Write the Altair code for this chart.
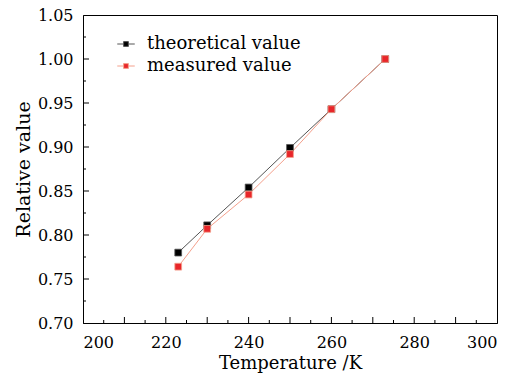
import altair as alt
import pandas as pd

temps = [223, 230, 240, 250, 260, 273]
theoretical = [0.780, 0.811, 0.854, 0.899, 0.943, 1.000]
measured = [0.764, 0.807, 0.846, 0.892, 0.943, 1.000]
series_names = ["theoretical value", "measured value"]

x_major = [210, 220, 230, 240, 250, 260, 270, 280, 290]
x_minor = [205, 215, 225, 235, 245, 255, 265, 275, 285, 295]
y_major = [0.75, 0.80, 0.85, 0.90, 0.95, 1.00]
y_minor = [0.725, 0.775, 0.825, 0.875, 0.925, 0.975, 1.025]

W, H = 414, 308
FONT = "DejaVu Serif"

rows = []
for t, v in zip(temps, theoretical):
    rows.append({"T": t, "v": v, "series": series_names[0], "order": 0})
for t, v in zip(temps, measured):
    rows.append({"T": t, "v": v, "series": series_names[1], "order": 1})
df = pd.DataFrame(rows)

xs = alt.Scale(domain=[200, 300], nice=False, zero=False)
ys = alt.Scale(domain=[0.70, 1.05], nice=False, zero=False)

stroke_scale = alt.Scale(domain=series_names, range=["#555555", "#f4a08c"])
fill_scale = alt.Scale(domain=series_names, range=["#000000", "#e8262a"])

legend_path = "M-1.75,0H-0.5M0.5,0H1.75M-0.48,-0.48H0.48V0.48H-0.48Z"
leg = alt.Legend(
    title=None, orient="none", legendX=34, legendY=20,
    symbolType=legend_path, symbolSize=100, symbolStrokeWidth=1,
    labelFont=FONT, labelFontSize=18, labelColor="black", rowPadding=4,
    labelOffset=12, symbolOffset=0,
)

base = alt.Chart(df)

lines = base.mark_line(strokeWidth=1).encode(
    x=alt.X("T:Q", scale=xs, title="Temperature /K",
            axis=alt.Axis(values=[200, 220, 240, 260, 280, 300], ticks=False, grid=False,
                          labelPadding=11, titlePadding=4, format="d")),
    y=alt.Y("v:Q", scale=ys, title="Relative value",
            axis=alt.Axis(values=[0.70, 0.75, 0.80, 0.85, 0.90, 0.95, 1.00, 1.05], ticks=False,
                          grid=False, format=".2f", labelPadding=10, titlePadding=4,
                          titleFontSize=19)),
    stroke=alt.Stroke("series:N", scale=stroke_scale, legend=leg, sort=series_names),
    detail="series:N",
)

points = base.mark_point(shape="square", filled=True, size=46, opacity=1,
                         strokeWidth=0.8).encode(
    x=alt.X("T:Q", scale=xs),
    y=alt.Y("v:Q", scale=ys),
    fill=alt.Fill("series:N", scale=fill_scale, legend=leg, sort=series_names),
    stroke=alt.Stroke("series:N", scale=stroke_scale, legend=leg, sort=series_names),
    order=alt.Order("order:Q"),
)

xmaj = alt.Chart(pd.DataFrame({"t": x_major})).mark_tick(
    color="black", orient="vertical", size=6, thickness=1, opacity=1).encode(
    x=alt.X("t:Q", scale=xs), y=alt.value(H - 3))
xmin = alt.Chart(pd.DataFrame({"t": x_minor})).mark_tick(
    color="black", orient="vertical", size=3, thickness=1, opacity=1).encode(
    x=alt.X("t:Q", scale=xs), y=alt.value(H - 1.5))
ymaj = alt.Chart(pd.DataFrame({"t": y_major})).mark_tick(
    color="black", orient="horizontal", size=6, thickness=1, opacity=1).encode(
    y=alt.Y("t:Q", scale=ys), x=alt.value(3))
ymin = alt.Chart(pd.DataFrame({"t": y_minor})).mark_tick(
    color="black", orient="horizontal", size=3, thickness=1, opacity=1).encode(
    y=alt.Y("t:Q", scale=ys), x=alt.value(1.5))

chart = alt.layer(lines, points, xmaj, xmin, ymaj, ymin).properties(
    width=W, height=H,
    padding={"left": 83, "top": 15, "right": 25, "bottom": 53},
    autosize=alt.AutoSizeParams(type="none"),
    background="white",
).resolve_scale(
    fill="shared", stroke="shared"
).configure_view(
    stroke="black", strokeWidth=1
).configure_axis(
    domainColor="black", domainWidth=1,
    labelFont=FONT, labelFontSize=16, labelColor="black",
    titleFont=FONT, titleFontSize=18, titleFontWeight="normal", titleColor="black",
)

chart.save("out.html", embed_options={"renderer": "svg", "actions": False})
